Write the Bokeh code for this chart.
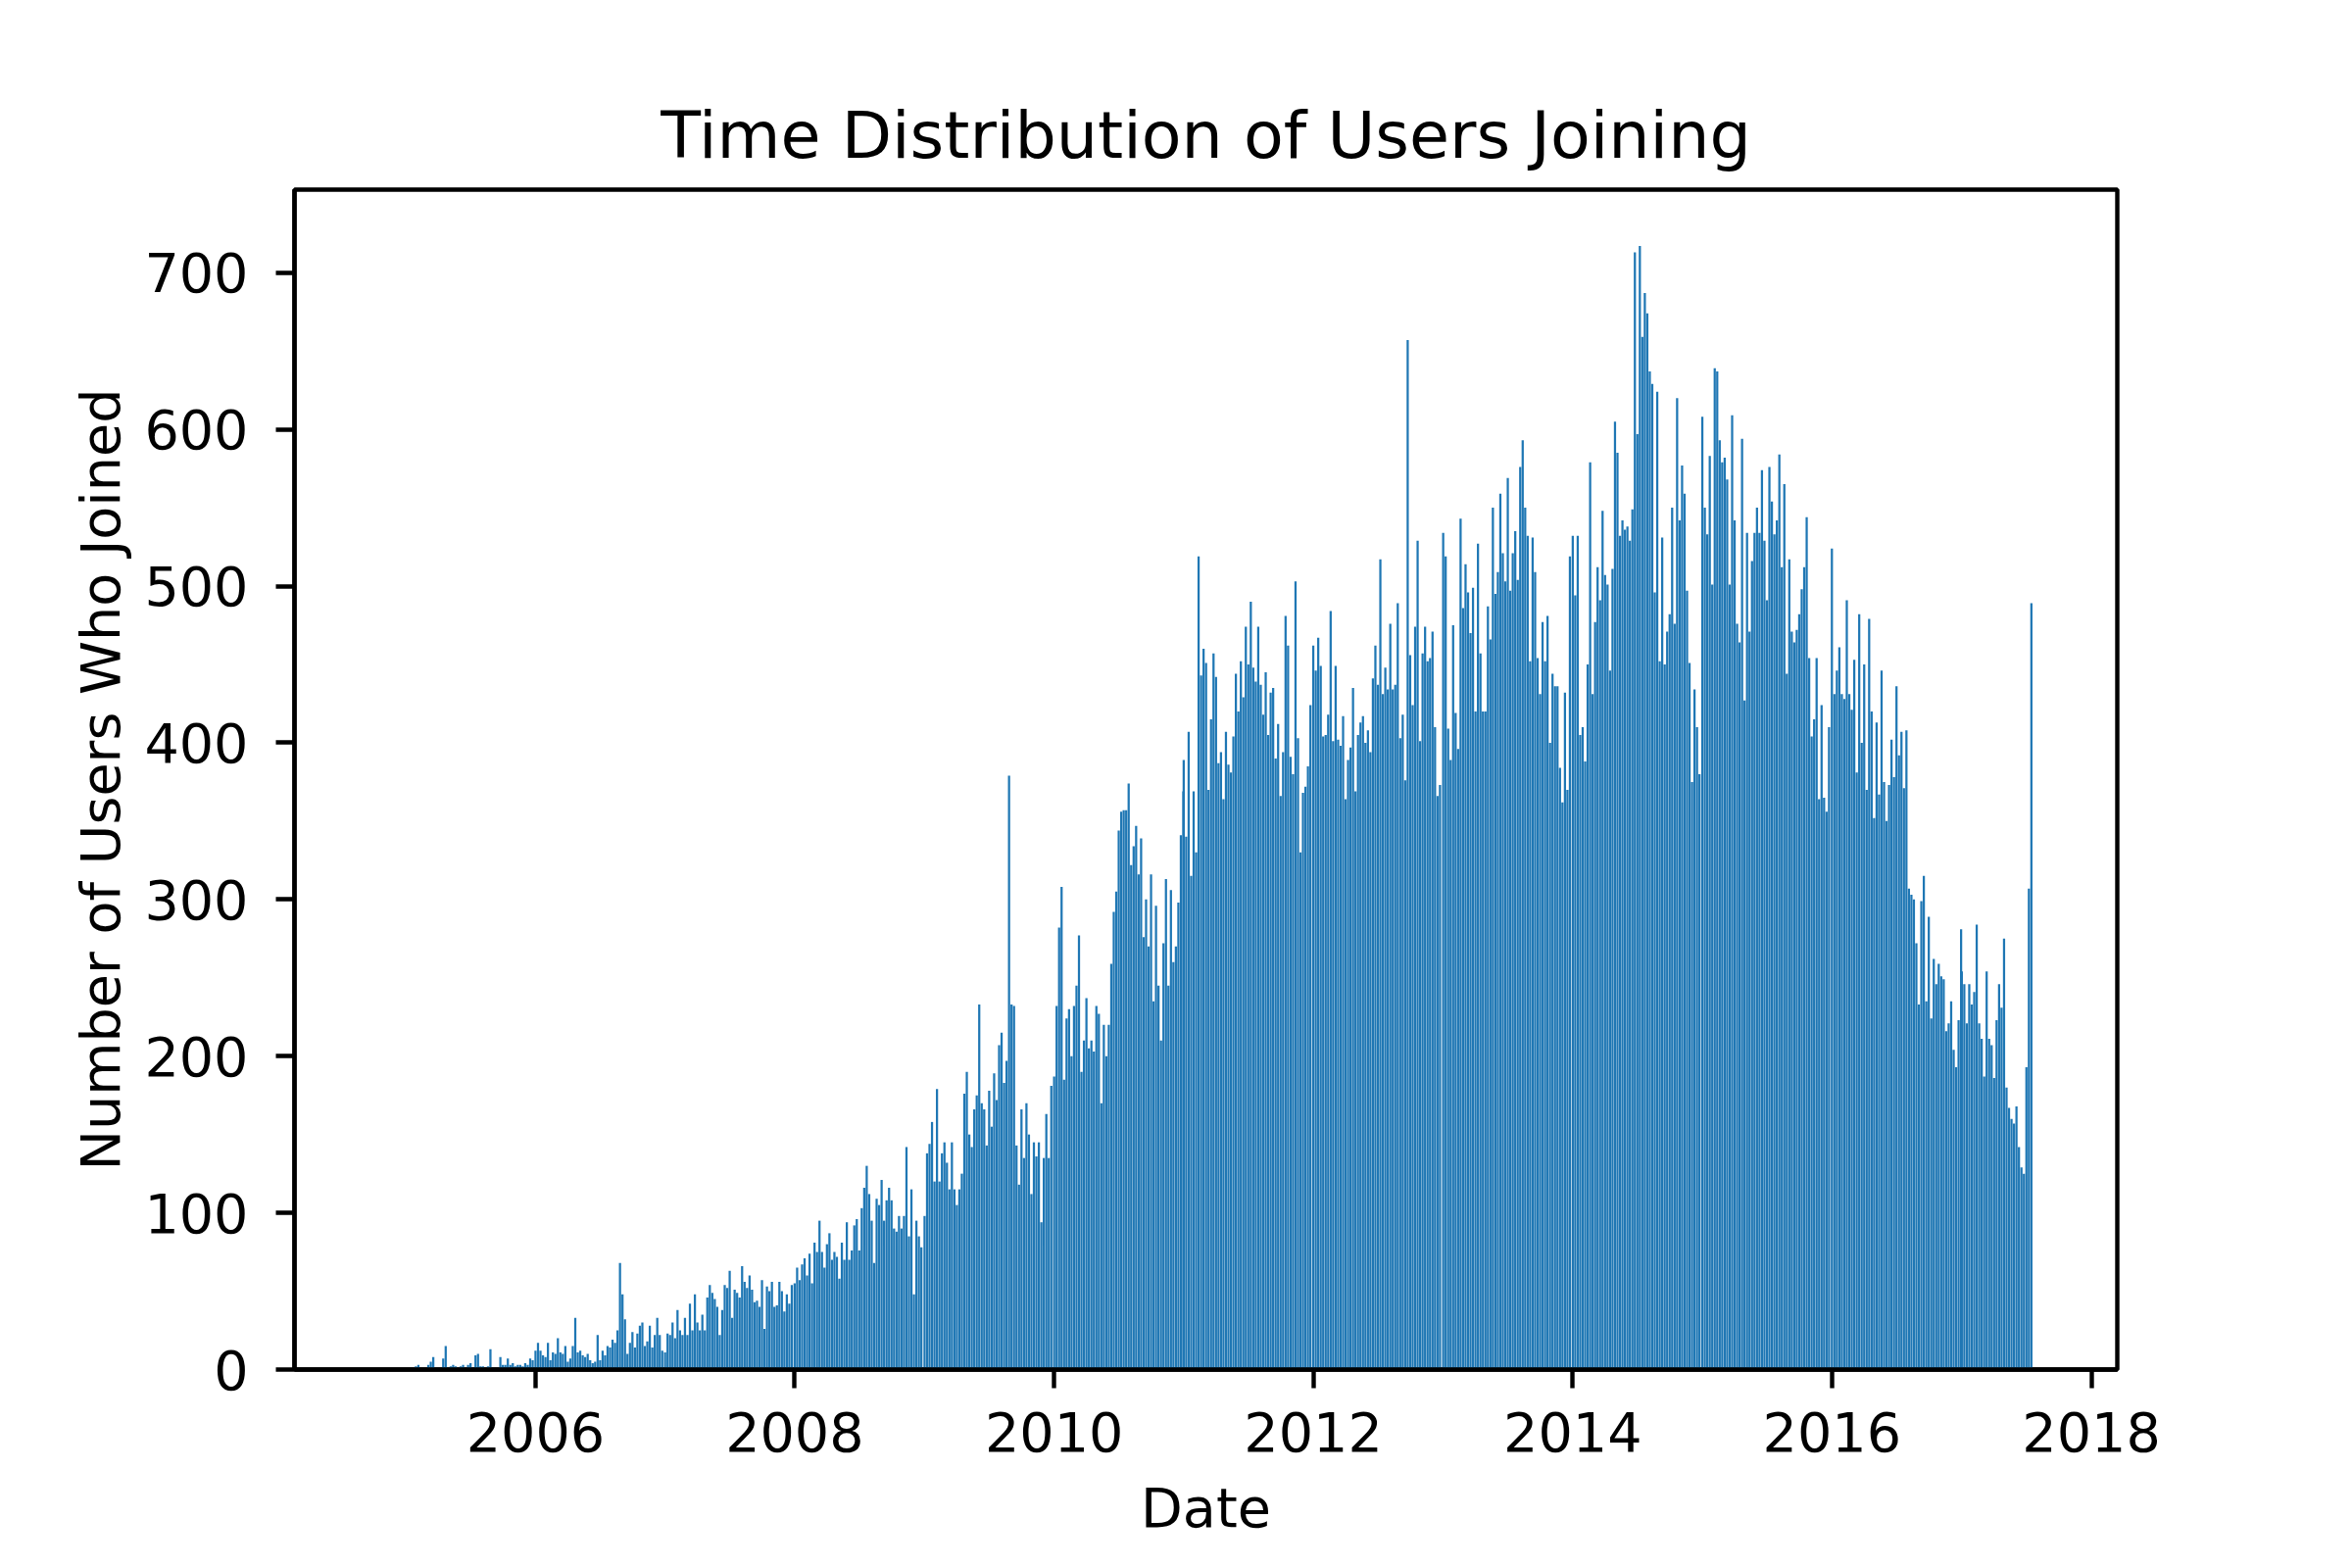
import numpy as np
import pandas as pd
from bokeh.plotting import figure
from bokeh.models import Range1d, FixedTicker, DatetimeTickFormatter, ColumnDataSource
from bokeh.embed import file_html
from bokeh.resources import INLINE

# Weekly counts of users who joined, one list per year
w2004 = [0, 0, 1, 0, 0, 0, 1, 0, 0, 1, 0, 0, 1, 1]
w2005 = [1, 1, 0, 0, 2, 3, 0, 0, 1, 3, 5, 8, 1, 0, 0, 7, 15, 1, 2, 3,
         2, 1, 2, 3, 1, 3, 4, 1, 9, 10, 2, 2, 1, 2, 13, 1, 0, 1, 8, 3,
         3, 7, 3, 4, 2, 3, 3, 2, 4, 3, 7, 6]
w2006 = [12, 17, 12, 9, 8, 17, 6, 11, 10, 20, 11, 10, 15, 5, 7, 15, 33, 11, 12, 9,
         8, 10, 6, 4, 5, 22, 6, 12, 9, 15, 14, 19, 17, 25, 68, 48, 32, 10, 17, 24,
         14, 23, 28, 30, 15, 18, 28, 14, 22, 33, 22, 12]
w2007 = [11, 23, 22, 30, 20, 38, 25, 22, 33, 22, 42, 25, 48, 30, 25, 35, 25, 46, 54, 49,
         45, 40, 22, 38, 54, 52, 63, 33, 51, 49, 46, 66, 56, 52, 60, 51, 43, 44, 40, 57,
         26, 53, 50, 56, 40, 41, 56, 50, 37, 48, 42, 54]
w2008 = [55, 65, 57, 67, 71, 60, 74, 55, 81, 75, 95, 75, 65, 80, 87, 70, 75, 72, 58, 81,
         70, 94, 70, 76, 92, 96, 76, 103, 116, 130, 112, 95, 68, 109, 105, 121, 95, 108, 116, 108,
         90, 88, 98, 90, 98, 142, 85, 115, 48, 95, 85, 78]
w2009 = [98, 138, 144, 158, 120, 179, 120, 138, 145, 132, 115, 145, 115, 105, 115, 125, 176, 190, 150, 142,
         166, 175, 233, 170, 166, 143, 178, 155, 189, 172, 207, 215, 183, 197, 379, 233, 232, 143, 118, 166,
         135, 170, 150, 112, 145, 136, 145, 94, 135, 163, 135, 181]
w2010 = [187, 232, 282, 308, 185, 224, 230, 200, 232, 245, 277, 190, 210, 237, 205, 210, 203, 232, 227, 170,
         220, 200, 220, 259, 292, 305, 344, 356, 357, 357, 374, 322, 334, 347, 316, 339, 276, 300, 270, 316,
         235, 296, 245, 210, 272, 313, 245, 306, 260, 270, 298, 341, 369]
w2011 = [389, 340, 407, 315, 369, 330, 519, 443, 460, 451, 370, 415, 457, 442, 387, 394, 364, 407, 386, 381,
         404, 444, 420, 452, 429, 474, 450, 490, 448, 439, 474, 437, 418, 445, 405, 432, 435, 390, 412, 366,
         394, 481, 462, 391, 380, 503, 403, 330, 368, 372, 385, 424]
w2012 = [462, 446, 467, 449, 404, 405, 418, 484, 401, 449, 402, 398, 417, 364, 389, 397, 435, 369, 405, 413,
         417, 400, 408, 394, 441, 462, 437, 517, 431, 448, 434, 476, 434, 437, 489, 403, 418, 376, 657, 456,
         424, 474, 529, 401, 457, 474, 452, 454, 471, 410, 366, 373]
w2013 = [534, 519, 409, 389, 475, 419, 396, 543, 486, 514, 496, 470, 499, 420, 527, 457, 420, 420, 487, 466,
         550, 495, 509, 559, 521, 503, 569, 497, 521, 535, 504, 576, 593, 550, 532, 452, 531, 509, 454, 431,
         477, 452, 481, 400, 444, 436, 436, 384, 362, 432, 370, 519]
w2014 = [532, 494, 532, 405, 410, 388, 450, 579, 431, 477, 512, 491, 548, 507, 501, 446, 511, 605, 585, 532,
         542, 536, 538, 529, 549, 713, 597, 717, 659, 687, 674, 637, 629, 496, 624, 452, 531, 450, 471, 482,
         550, 476, 620, 542, 577, 559, 497, 451, 375, 434, 410, 380]
w2015 = [608, 550, 533, 583, 501, 639, 637, 593, 579, 582, 568, 501, 609, 542, 476, 464, 594, 427, 534, 471,
         516, 534, 550, 534, 574, 529, 491, 576, 554, 533, 542, 584, 512, 565, 444, 517, 471, 464, 472, 482,
         498, 512, 544, 454, 404, 415, 454, 364, 424, 365, 356, 410]
w2016 = [524, 431, 446, 461, 431, 428, 491, 431, 421, 453, 381, 482, 400, 450, 370, 479, 420, 352, 413, 367,
         446, 375, 350, 373, 402, 378, 436, 392, 407, 371, 408, 307, 303, 300, 272, 233, 299, 315, 235, 289,
         224, 262, 246, 259, 251, 249, 216, 221, 235, 204, 193, 223, 281]
w2017 = [254, 246, 221, 246, 233, 241, 284, 221, 211, 187, 254, 211, 207, 186, 223, 246, 231, 275, 180, 167,
         160, 157, 168, 142, 129, 125, 193, 307, 489]

years = {2004: w2004, 2005: w2005, 2006: w2006, 2007: w2007, 2008: w2008, 2009: w2009,
         2010: w2010, 2011: w2011, 2012: w2012, 2013: w2013, 2014: w2014, 2015: w2015,
         2016: w2016, 2017: w2017}
year_ticks = [2006, 2008, 2010, 2012, 2014, 2016, 2018]
y_ticks = [0, 100, 200, 300, 400, 500, 600, 700]

dates, counts = [], []
for y, vals in years.items():
    start = pd.Timestamp("2004-10-01") if y == 2004 else pd.Timestamp(f"{y}-01-01")
    d = start + pd.to_timedelta(7 * np.arange(len(vals)), unit="D")
    dates.extend(list(d))
    counts.extend(vals)

src = ColumnDataSource(dict(date=dates, count=counts))

p = figure(width=2384, height=1584, x_axis_type="datetime", output_backend="svg",
           toolbar_location=None,
           x_range=Range1d(start=pd.Timestamp("2004-02-22"), end=pd.Timestamp("2018-03-15")),
           y_range=Range1d(0, 753),
           min_border_left=300, min_border_right=224, min_border_top=193, min_border_bottom=187,
           title="Time Distribution of Users Joining")

p.vbar(x="date", top="count", bottom=0, width=6.2 * 86400000, source=src,
       fill_color="#1f77b4", line_color=None)

font = "DejaVu Sans"
p.title.text_font = font
p.title.text_font_size = "66.7px"
p.title.text_font_style = "normal"
p.title.align = "center"
p.title.text_color = "black"
p.title.standoff = 34

p.xgrid.visible = False
p.ygrid.visible = False
p.outline_line_color = "black"
p.outline_line_width = 4.4
p.background_fill_color = "white"
p.border_fill_color = "white"

p.xaxis.ticker = FixedTicker(ticks=[pd.Timestamp(f"{y}-01-01").value / 1e6 for y in year_ticks])
p.xaxis.formatter = DatetimeTickFormatter(years="%Y", months="%Y", days="%Y", hours="%Y",
                                          minutes="%Y", seconds="%Y", milliseconds="%Y",
                                          microseconds="%Y", minsec="%Y", hourmin="%Y")
p.yaxis.ticker = FixedTicker(ticks=y_ticks)

p.xaxis.axis_label = "Date"
p.yaxis.axis_label = "Number of Users Who Joined"

for ax in (p.xaxis, p.yaxis):
    ax.axis_line_width = 4.4
    ax.axis_line_color = "black"
    ax.major_tick_line_width = 4.4
    ax.major_tick_line_color = "black"
    ax.major_tick_out = 19
    ax.major_tick_in = 0
    ax.minor_tick_line_color = None
    ax.major_label_text_font = font
    ax.major_label_text_font_size = "55.6px"
    ax.major_label_text_color = "black"
    ax.axis_label_text_font = font
    ax.axis_label_text_font_size = "55.6px"
    ax.axis_label_text_font_style = "normal"
    ax.axis_label_text_color = "black"

p.xaxis.major_label_standoff = 24
p.yaxis.major_label_standoff = 28
p.xaxis.axis_label_standoff = 22
p.yaxis.axis_label_standoff = 9

html = file_html(p, INLINE)
with open("out.html", "w") as f:
    f.write(html)
